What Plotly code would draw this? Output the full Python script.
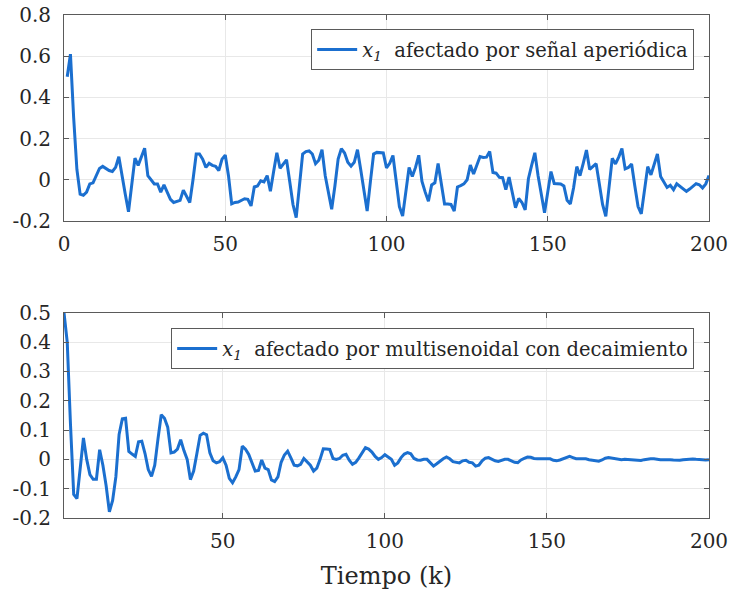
import plotly.graph_objects as go

k = list(range(1, 201))

x1_aperiodica = [
    0.50, 0.61, 0.30, 0.05, -0.07, -0.075, -0.06, -0.02, -0.015, 0.02,
    0.055, 0.065, 0.055, 0.045, 0.04, 0.06, 0.112, 0.03, -0.07, -0.155,
    -0.02, 0.105, 0.07, 0.11, 0.153, 0.02, 0.0, -0.02, -0.02, -0.06,
    -0.025, -0.06, -0.095, -0.11, -0.105, -0.1, -0.05, -0.08, -0.11, 0.0,
    0.125, 0.125, 0.1, 0.06, 0.08, 0.07, 0.065, 0.045, 0.1, 0.12,
    0.02, -0.117, -0.11, -0.108, -0.1, -0.092, -0.095, -0.127, -0.035, -0.03,
    -0.005, -0.01, 0.02, -0.056, 0.04, 0.131, 0.056, 0.075, 0.097, -0.01,
    -0.12, -0.184, -0.02, 0.125, 0.137, 0.14, 0.125, 0.078, 0.095, 0.146,
    0.02, -0.06, -0.143, -0.03, 0.1, 0.151, 0.13, 0.085, 0.066, 0.085,
    0.146, 0.05, -0.06, -0.152, -0.01, 0.125, 0.133, 0.133, 0.13, 0.058,
    0.08, 0.118, 0.0, -0.13, -0.176, -0.06, 0.06, 0.016, 0.06, 0.119,
    -0.008, -0.06, -0.104, -0.025, -0.015, 0.079, -0.02, -0.118, -0.118, -0.12,
    -0.152, -0.035, -0.028, -0.02, 0.0, 0.072, 0.028, 0.07, 0.113, 0.108,
    0.11, 0.138, 0.035, 0.032, 0.012, 0.01, -0.048, 0.013, -0.06, -0.136,
    -0.091, -0.11, -0.146, 0.005, 0.07, 0.131, 0.02, -0.08, -0.16, -0.06,
    0.04, -0.018, -0.018, -0.02, -0.03, -0.1, -0.117, -0.04, 0.064, 0.02,
    0.08, 0.144, 0.05, 0.065, 0.078, -0.02, -0.12, -0.178, -0.03, 0.104,
    0.077, 0.11, 0.152, 0.053, 0.06, 0.077, -0.03, -0.13, -0.165, -0.05,
    0.064, 0.024, 0.07, 0.125, 0.016, -0.01, -0.037, -0.027, -0.048, -0.019,
    -0.03, -0.045, -0.056, -0.045, -0.03, -0.019, -0.024, -0.04, -0.02, 0.021,
]

x1_multisenoidal = [
    0.50, 0.40, 0.12, -0.12, -0.134, -0.03, 0.073, 0.0, -0.052, -0.068,
    -0.068, 0.033, -0.02, -0.09, -0.179, -0.14, -0.06, 0.085, 0.138, 0.14,
    0.027, 0.018, 0.01, 0.06, 0.062, 0.02, -0.035, -0.058, -0.02, 0.07,
    0.152, 0.14, 0.11, 0.022, 0.025, 0.035, 0.067, 0.03, 0.0, -0.069,
    -0.04, 0.02, 0.082, 0.089, 0.084, 0.022, -0.005, -0.012, -0.008, 0.005,
    -0.02, -0.065, -0.08, -0.06, -0.035, 0.045, 0.035, 0.017, -0.01, -0.04,
    -0.038, -0.002, -0.03, -0.035, -0.07, -0.076, -0.06, -0.01, 0.015, 0.028,
    0.005, -0.02, -0.022, -0.017, 0.003, -0.01, -0.02, -0.04, -0.03, 0.0,
    0.036, 0.035, 0.034, 0.003, 0.0, 0.003, 0.014, 0.017, -0.003, -0.017,
    -0.01, 0.005, 0.025, 0.04, 0.035, 0.025, 0.01, 0.0, 0.006, 0.016,
    0.008, 0.0, -0.02, -0.012, 0.006, 0.018, 0.023, 0.019, 0.003, -0.002,
    -0.003, 0.0, 0.0, -0.012, -0.023, -0.015, -0.005, 0.002, 0.008, 0.002,
    -0.008, -0.01, -0.012, -0.005, -0.003, -0.01, -0.012, -0.023, -0.02, -0.005,
    0.004, 0.006, 0.0, -0.005, -0.007, -0.004, 0.0, 0.0, -0.005, -0.01,
    -0.011, -0.002, 0.003, 0.008, 0.007, 0.003, 0.002, 0.002, 0.003, 0.002,
    0.002, -0.003, -0.005, -0.002, 0.002, 0.007, 0.01, 0.006, 0.002, 0.002,
    0.003, 0.002, -0.001, -0.002, -0.004, -0.006, -0.002, 0.004, 0.006, 0.004,
    0.001, -0.001, -0.001, 0.0, -0.001, -0.002, -0.003, -0.005, -0.004, -0.001,
    0.001, 0.002, 0.002, 0.0, -0.001, -0.001, 0.0, -0.001, -0.002, -0.003,
    -0.003, -0.001, 0.0, 0.001, 0.001, 0.0, -0.001, -0.002, -0.002, -0.001,
]

x_tick_vals = [0, 50, 100, 150, 200]
x_tick_text = ["0", "50", "100", "150", "200"]
y1_tick_vals = [-0.2, 0, 0.2, 0.4, 0.6, 0.8]
y1_tick_text = ["-0.2", "0", "0.2", "0.4", "0.6", "0.8"]
y2_tick_vals = [-0.2, -0.1, 0, 0.1, 0.2, 0.3, 0.4, 0.5]
y2_tick_text = ["-0.2", "-0.1", "0", "0.1", "0.2", "0.3", "0.4", "0.5"]

name1 = "<i>x</i><sub><i>1</i></sub>  afectado por señal aperiódica"
name2 = "<i>x</i><sub><i>1</i></sub>  afectado por multisenoidal con decaimiento"
xlabel = "Tiempo (k)"

BLUE = "#1b6fcf"
FONT = "DejaVu Serif"
TXT = "#262626"

fig = go.Figure()
fig.add_trace(go.Scatter(x=k, y=x1_aperiodica, mode="lines", name=name1,
                         line=dict(color=BLUE, width=3), xaxis="x", yaxis="y",
                         legend="legend"))
fig.add_trace(go.Scatter(x=k, y=x1_multisenoidal, mode="lines", name=name2,
                         line=dict(color=BLUE, width=3), xaxis="x2", yaxis="y2",
                         legend="legend2"))

axis_common = dict(showline=True, mirror="ticks", linecolor="#5a5a5a", linewidth=1,
                   ticks="inside", ticklen=5, tickcolor="#5a5a5a", automargin=False,
                   showgrid=True, gridcolor="#e8e8e8", gridwidth=1, zeroline=False,
                   tickfont=dict(family=FONT, size=20, color=TXT))

fig.update_layout(
    width=731, height=590,
    margin=dict(l=64, r=22, t=15, b=72, autoexpand=False),
    paper_bgcolor="white", plot_bgcolor="white",
    font=dict(family=FONT, size=19, color=TXT),
    xaxis=dict(domain=[0, 1], anchor="y", range=[0, 200], tickvals=x_tick_vals,
               ticktext=x_tick_text, ticklabelstandoff=5, **axis_common),
    yaxis=dict(domain=[0.5905, 1.0], anchor="x", range=[-0.2, 0.8], tickvals=y1_tick_vals,
               ticktext=y1_tick_text, ticklabelstandoff=8, **axis_common),
    xaxis2=dict(domain=[0, 1], anchor="y2", range=[1, 200], tickvals=x_tick_vals,
                ticktext=x_tick_text, ticklabelstandoff=5,
                title=dict(text=xlabel, font=dict(family=FONT, size=24, color=TXT)),
                **axis_common),
    yaxis2=dict(domain=[0.0, 0.408], anchor="x2", range=[-0.2, 0.5], tickvals=y2_tick_vals,
                ticktext=y2_tick_text, ticklabelstandoff=8, **axis_common),
    legend=dict(x=0.977, y=0.9716, xanchor="right", yanchor="top",
                bgcolor="white", bordercolor="#5a5a5a", borderwidth=1,
                font=dict(family=FONT, size=19.5, color=TXT), itemwidth=40),
    legend2=dict(x=0.977, y=0.377, xanchor="right", yanchor="top",
                 bgcolor="white", bordercolor="#5a5a5a", borderwidth=1,
                 font=dict(family=FONT, size=19.5, color=TXT), itemwidth=40),
    showlegend=True,
)

fig.write_html("out.html")
